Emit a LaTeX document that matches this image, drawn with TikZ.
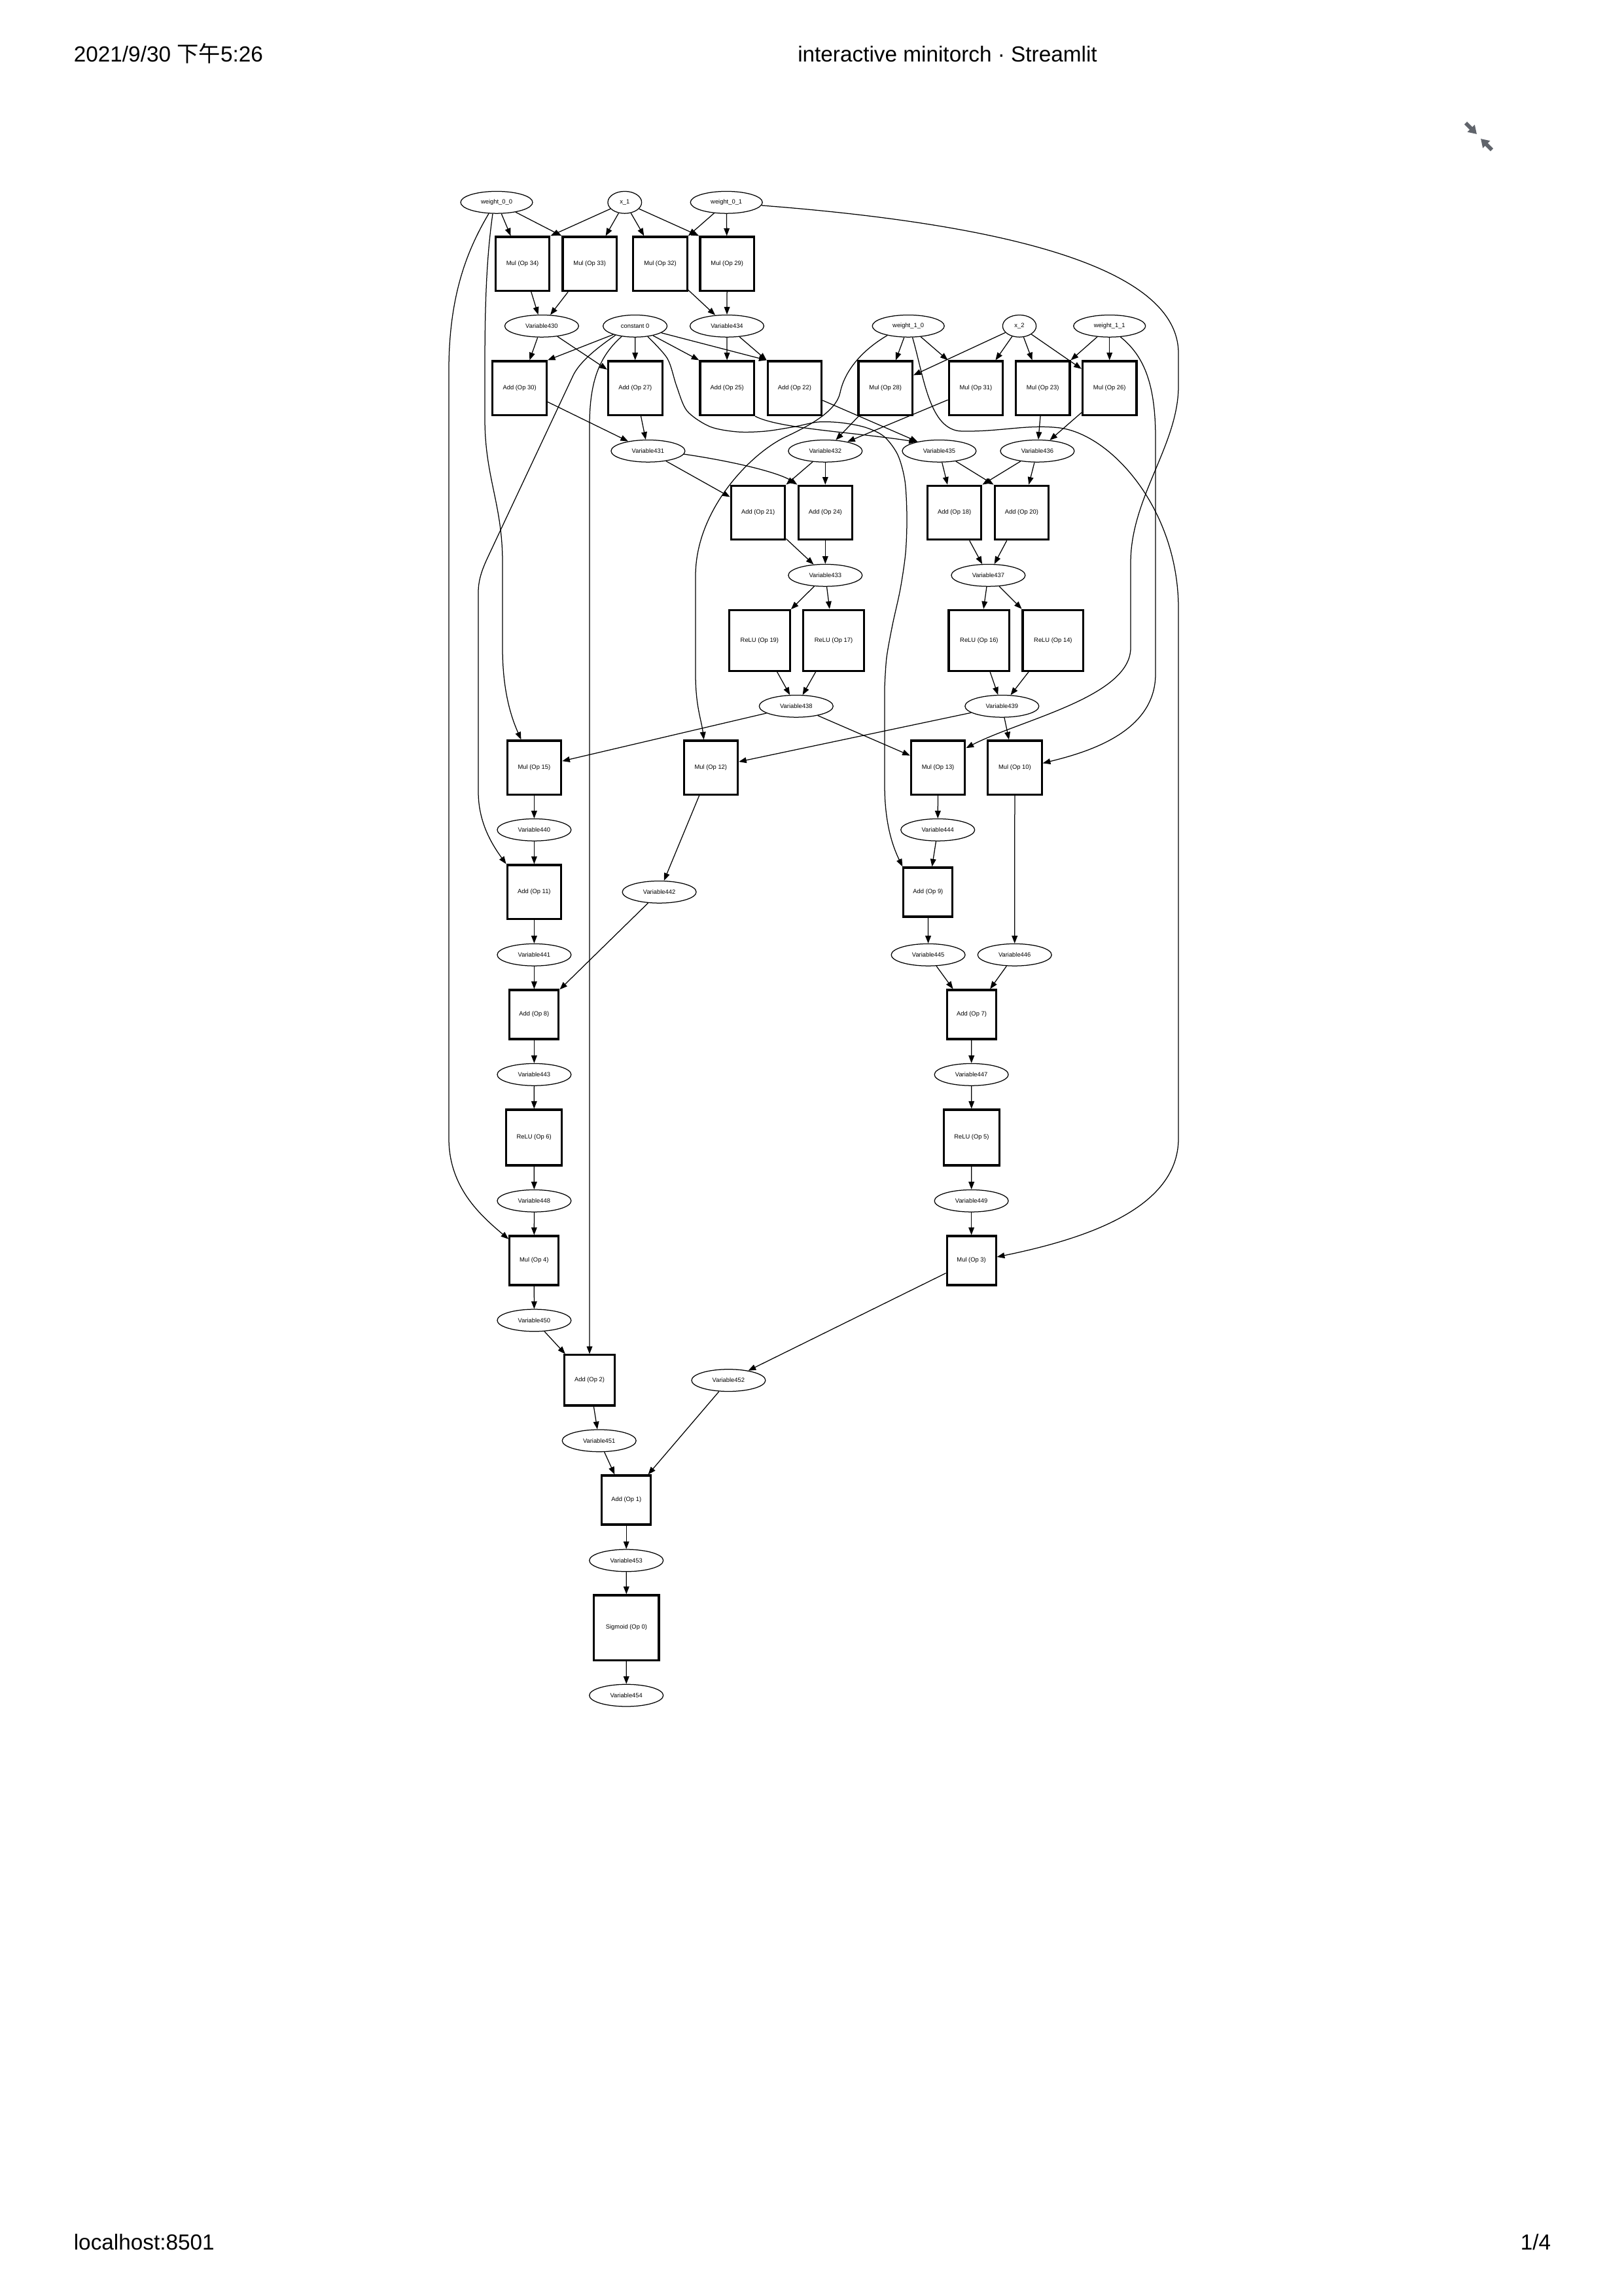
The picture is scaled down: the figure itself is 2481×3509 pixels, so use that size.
\documentclass[tikz,border=0pt]{standalone}
\usepackage{fontspec}
\setmainfont{Liberation Sans}
\newfontfamily\cjkfont{Noto Sans CJK SC}
\usepackage{tikz}
\usetikzlibrary{shapes.geometric, arrows.meta}
\definecolor{ink}{HTML}{000000}
\definecolor{icongray}{HTML}{60646B}

\begin{document}
\begin{tikzpicture}[
    x=0.24pt, y={(0pt,-0.24pt)},
    font=\fontsize{2.25pt}{2.7pt}\selectfont,
    varnode/.style={ellipse, draw=ink, line width=0.3pt, minimum width=#1, minimum height=8.1pt, inner sep=0pt},
    varnode/.default=27.1pt,
    opnode/.style={rectangle, draw=ink, line width=0.75pt, minimum width=#1, minimum height=#1, inner sep=0pt},
    opnode/.default=19.8pt,
    arrow/.style={-{Triangle[length=2.8pt, width=2.1pt]}, line width=0.3pt, color=ink},
    pagetext/.style={font=\fontsize{8pt}{9.6pt}\selectfont, inner sep=0pt},
    icon/.style={-{Triangle[length=3pt, width=3.6pt]}, line width=1.4pt, color=icongray}
]
    \useasboundingbox (0,0) rectangle (2481,3509);

    \node[pagetext, anchor=base west] (stamp) at (112,95) {2021/9/30 {\cjkfont 下午}5:26};
    \node[pagetext, anchor=base] (title) at (1448,95) {interactive minitorch · Streamlit};
    \node[pagetext, anchor=base west] (host) at (112,3438) {localhost:8501};
    \node[pagetext, anchor=base east] (pageno) at (2371,3438) {1/4};
    \draw[icon] (2240,188) -- (2257,205);
    \draw[icon] (2280,229) -- (2263,212);

    \node[varnode=26.4pt] (w00) at (759,309.3) {weight\_0\_0};
    \node[varnode=12.4pt] (x1) at (954.8,309.3) {x\_1};
    \node[varnode=26.4pt] (w01) at (1110.2,309.3) {weight\_0\_1};

    \node[opnode] (m34) at (798.6,403.3) {Mul (Op 34)};
    \node[opnode] (m33) at (901.2,403.3) {Mul (Op 33)};
    \node[opnode] (m32) at (1009,403.3) {Mul (Op 32)};
    \node[opnode] (m29) at (1111.2,403.3) {Mul (Op 29)};

    \node[varnode] (v430) at (827.9,498.3) {Variable430};
    \node[varnode=23.5pt] (c0) at (970.6,498.3) {constant 0};
    \node[varnode] (v434) at (1111,498.3) {Variable434};
    \node[varnode=26.4pt] (w10) at (1388.2,498.3) {weight\_1\_0};
    \node[varnode=12.3pt] (x2) at (1558,498.3) {x\_2};
    \node[varnode=26.4pt] (w11) at (1695.7,498.3) {weight\_1\_1};

    \node[opnode] (a30) at (794.1,593.3) {Add (Op 30)};
    \node[opnode] (a27) at (970.8,593.3) {Add (Op 27)};
    \node[opnode] (a25) at (1111.2,593.3) {Add (Op 25)};
    \node[opnode] (a22) at (1214.4,593.3) {Add (Op 22)};
    \node[opnode] (m28) at (1353.2,593.3) {Mul (Op 28)};
    \node[opnode] (m31) at (1491.4,593.3) {Mul (Op 31)};
    \node[opnode] (m23) at (1593.7,593.3) {Mul (Op 23)};
    \node[opnode] (m26) at (1695.7,593.3) {Mul (Op 26)};

    \node[varnode] (v431) at (990.4,689.3) {Variable431};
    \node[varnode] (v432) at (1261.3,689.3) {Variable432};
    \node[varnode] (v435) at (1435.4,689.3) {Variable435};
    \node[varnode] (v436) at (1585.4,689.3) {Variable436};

    \node[opnode] (a21) at (1158.6,783.5) {Add (Op 21)};
    \node[opnode] (a24) at (1261.3,783.5) {Add (Op 24)};
    \node[opnode] (a18) at (1458.6,783.5) {Add (Op 18)};
    \node[opnode] (a20) at (1561.4,783.5) {Add (Op 20)};

    \node[varnode] (v433) at (1261.3,879.3) {Variable433};
    \node[varnode] (v437) at (1510.4,879.3) {Variable437};

    \node[opnode=22.3pt] (r19) at (1160.9,978.7) {ReLU (Op 19)};
    \node[opnode=22.3pt] (r17) at (1274,978.7) {ReLU (Op 17)};
    \node[opnode=22.3pt] (r16) at (1496.4,978.7) {ReLU (Op 16)};
    \node[opnode=22.3pt] (r14) at (1609.4,978.7) {ReLU (Op 14)};

    \node[varnode] (v438) at (1216.8,1079.3) {Variable438};
    \node[varnode] (v439) at (1531.3,1079.3) {Variable439};

    \node[opnode] (m15) at (816.4,1173.2) {Mul (Op 15)};
    \node[opnode] (m12) at (1086.3,1173.2) {Mul (Op 12)};
    \node[opnode] (m13) at (1433.6,1173.2) {Mul (Op 13)};
    \node[opnode] (m10) at (1550.9,1173.2) {Mul (Op 10)};

    \node[varnode] (v440) at (816.4,1268.3) {Variable440};
    \node[varnode] (v444) at (1433.2,1268.3) {Variable444};

    \node[opnode] (a11) at (816.4,1363.3) {Add (Op 11)};
    \node[varnode] (v442) at (1007.6,1363.3) {Variable442};
    \node[opnode=18pt] (a9) at (1418.4,1363.5) {Add (Op 9)};

    \node[varnode] (v441) at (816.4,1459.3) {Variable441};
    \node[varnode] (v445) at (1418.6,1459.3) {Variable445};
    \node[varnode] (v446) at (1550.7,1459.3) {Variable446};

    \node[opnode=18pt] (a8) at (816.4,1550.5) {Add (Op 8)};
    \node[opnode=18pt] (a7) at (1485,1550.5) {Add (Op 7)};

    \node[varnode] (v443) at (816.4,1642.3) {Variable443};
    \node[varnode] (v447) at (1484.6,1642.3) {Variable447};

    \node[opnode=20.4pt] (r6) at (816.2,1738.5) {ReLU (Op 6)};
    \node[opnode=20.4pt] (r5) at (1484.9,1738.5) {ReLU (Op 5)};

    \node[varnode] (v448) at (816.4,1835.3) {Variable448};
    \node[varnode] (v449) at (1484.6,1835.3) {Variable449};

    \node[opnode=18pt] (m4) at (816.3,1926.5) {Mul (Op 4)};
    \node[opnode=18pt] (m3) at (1484.6,1926.5) {Mul (Op 3)};

    \node[varnode] (v450) at (816.4,2017.9) {Variable450};
    \node[opnode=18.5pt] (a2) at (901,2109.4) {Add (Op 2)};
    \node[varnode] (v452) at (1113.4,2109.6) {Variable452};
    \node[varnode] (v451) at (915.7,2201.8) {Variable451};
    \node[opnode=18pt] (a1) at (957.2,2292.5) {Add (Op 1)};
    \node[varnode] (v453) at (957.2,2384.9) {Variable453};
    \node[opnode=23.8pt] (s0) at (957.4,2487.5) {Sigmoid (Op 0)};
    \node[varnode] (v454) at (957.2,2591.1) {Variable454};

    \draw[arrow] (w00) -- (m34);
    \draw[arrow] (w00) -- (m33.north west);
    \draw[arrow] (x1) -- (m34.north east);
    \draw[arrow] (x1) -- (m33);
    \draw[arrow] (x1) -- (m32);
    \draw[arrow] (x1) -- (m29.north west);
    \draw[arrow] (w01) -- (m32.north east);
    \draw[arrow] (w01) -- (m29);
    \draw[arrow] (m34) -- (v430);
    \draw[arrow] (m33) -- (v430);
    \draw[arrow] (m32) -- (v434);
    \draw[arrow] (m29) -- (v434);
    \draw[arrow] (v430) -- (a30);
    \draw[arrow] (v430) -- (a27);
    \draw[arrow] (c0) -- (a30.north east);
    \draw[arrow] (c0) -- (a27);
    \draw[arrow] (c0) -- (a25.north west);
    \draw[arrow] (c0) -- (a22.north west);
    \draw[arrow] (v434) -- (a25);
    \draw[arrow] (v434) -- (a22.north west);
    \draw[arrow] (w10) -- (m28);
    \draw[arrow] (w10) -- (m31.north west);
    \draw[arrow] (x2) -- (m28);
    \draw[arrow] (x2) -- (m31);
    \draw[arrow] (x2) -- (m23);
    \draw[arrow] (x2) -- (m26);
    \draw[arrow] (w11) -- (m23.north east);
    \draw[arrow] (w11) -- (m26);
    \draw[arrow] (a30) -- (v431);
    \draw[arrow] (a27) -- (v431);
    \draw[arrow] (a22) -- (v435);
    \draw[arrow] (m28) -- (v432);
    \draw[arrow] (m31) -- (v432);
    \draw[arrow] (m23) -- (v436);
    \draw[arrow] (m26) -- (v436);
    \draw[arrow] (v431) -- (a21);
    \draw[arrow] (v432) -- (a21.north east);
    \draw[arrow] (v432) -- (a24);
    \draw[arrow] (v435) -- (a18);
    \draw[arrow] (v435) -- (a20.north west);
    \draw[arrow] (v436) -- (a18.north east);
    \draw[arrow] (v436) -- (a20);
    \draw[arrow] (a21) -- (v433);
    \draw[arrow] (a24) -- (v433);
    \draw[arrow] (a18) -- (v437);
    \draw[arrow] (a20) -- (v437);
    \draw[arrow] (v433) -- (r19);
    \draw[arrow] (v433) -- (r17);
    \draw[arrow] (v437) -- (r16);
    \draw[arrow] (v437) -- (r14);
    \draw[arrow] (r19) -- (v438);
    \draw[arrow] (r17) -- (v438);
    \draw[arrow] (r16) -- (v439);
    \draw[arrow] (r14) -- (v439);
    \draw[arrow] (v438) -- (m15);
    \draw[arrow] (v438) -- (m13);
    \draw[arrow] (v439) -- (m12);
    \draw[arrow] (v439) -- (m10);
    \draw[arrow] (m15) -- (v440);
    \draw[arrow] (m12) -- (v442);
    \draw[arrow] (m13) -- (v444);
    \draw[arrow] (m10) -- (v446);
    \draw[arrow] (v440) -- (a11);
    \draw[arrow] (v444) -- (a9);
    \draw[arrow] (a11) -- (v441);
    \draw[arrow] (a9) -- (v445);
    \draw[arrow] (v441) -- (a8);
    \draw[arrow] (v442) -- (a8);
    \draw[arrow] (v445) -- (a7);
    \draw[arrow] (v446) -- (a7);
    \draw[arrow] (a8) -- (v443);
    \draw[arrow] (a7) -- (v447);
    \draw[arrow] (v443) -- (r6);
    \draw[arrow] (v447) -- (r5);
    \draw[arrow] (r6) -- (v448);
    \draw[arrow] (r5) -- (v449);
    \draw[arrow] (v448) -- (m4);
    \draw[arrow] (v449) -- (m3);
    \draw[arrow] (m4) -- (v450);
    \draw[arrow] (m3) -- (v452);
    \draw[arrow] (v450) -- (a2);
    \draw[arrow] (a2) -- (v451);
    \draw[arrow] (v451) -- (a1);
    \draw[arrow] (v452) -- (a1);
    \draw[arrow] (a1) -- (v453);
    \draw[arrow] (v453) -- (s0);
    \draw[arrow] (s0) -- (v454);

    \draw[arrow] (w00.235) .. controls (714,382) and (687,450) .. (686,560) -- (686,1740) .. controls (686,1815) and (735,1858) .. (m4.140);
    \draw[arrow] (w00.251) .. controls (744,390) and (741,460) .. (741,560) -- (741,640) .. controls (741,730) and (768,770) .. (768,860) -- (768,990) .. controls (768,1060) and (783,1100) .. (m15.115);
    \draw[arrow] (w01.355) .. controls (1500,340) and (1801,400) .. (1801,540) -- (1801,590) .. controls (1801,680) and (1728,760) .. (1728,860) -- (1728,990) .. controls (1728,1065) and (1560,1100) .. (m13.35);
    \draw[arrow] (w10.290) .. controls (1412,575) and (1420,658) .. (1470,659) .. controls (1530,660) and (1570,648) .. (1620,654) .. controls (1700,665) and (1801,780) .. (1801,930) -- (1801,1740) .. controls (1801,1850) and (1650,1895) .. (m3.8);
    \draw[arrow] (w11.315) .. controls (1750,545) and (1766,590) .. (1766,670) -- (1766,1030) .. controls (1766,1120) and (1660,1150) .. (m10.9);
    \draw[arrow] (w10.204) .. controls (1318,535) and (1291,566) .. (1284,600) .. controls (1278,629) and (1236,651) .. (1200,668) .. controls (1146,694) and (1063,780) .. (1063,880) -- (1063,1030) .. controls (1063,1080) and (1072,1100) .. (m12.104);
    \draw[arrow] (c0.205) .. controls (915,530) and (885.6,552.4) .. (875.4,575) -- (746.3,850) .. controls (737.8,868) and (731,885) .. (731,905) -- (731,1210) .. controls (731,1255) and (750,1288) .. (a11.north west);
    \draw[arrow] (c0.218) .. controls (915,545) and (901,585) .. (901,650) -- (a2.north);
    \draw[arrow] plot[smooth] coordinates {(c0.320) (1020,548) (1034,590) (1050,628) (1085,652) (1127,660) (1170,659) (1215,652) (1250,645) (1285,646) (1322,653) (1351,667) (1372,695) (1383,735) (1386,790) (1384,845) (1376,900) (1364,955) (1355,1005) (1352,1050)} -- (1352,1200) .. controls (1352,1260) and (1365,1295) .. (a9.north west);
    \draw[arrow] (a25.south east) .. controls (1190,655) and (1300,660) .. (v435.158);
    \draw[arrow] (v431.355) .. controls (1120,705) and (1190,722) .. (a24.north west);
\end{tikzpicture}
\end{document}
